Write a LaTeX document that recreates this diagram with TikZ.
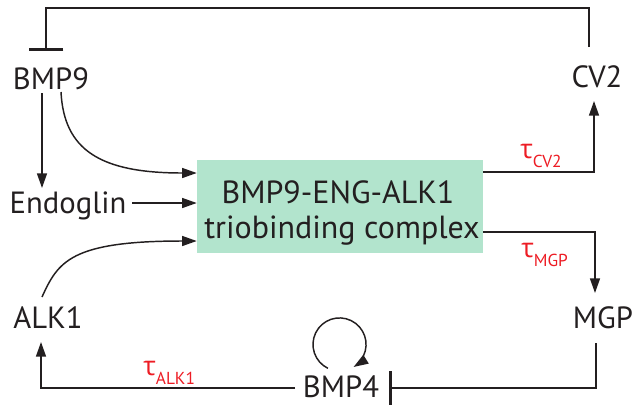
\documentclass[tikz,border=0pt]{standalone}
\usepackage{fontspec}
\setmainfont{PT Sans}
\newfontfamily\greekfont{Open Sans}
\usetikzlibrary{arrows.meta,calc}
\definecolor{boxfill}{RGB}{178,228,205}
\definecolor{taured}{RGB}{237,28,36}
\definecolor{ink}{RGB}{35,31,32}
\newcommand\taulab[1]{{\greekfont τ}\raisebox{-6.75pt}{\fontsize{13}{13}\selectfont #1}}
\begin{document}
\begin{tikzpicture}[x=0.75pt,y=-0.75pt,
  lbl/.style={font=\fontsize{23}{27}\selectfont, inner sep=0pt, text=ink, anchor=base},
  cbox/.style={fill=boxfill, draw=none, minimum width=214.5pt, minimum height=69.75pt, inner sep=0pt},
  btxt/.style={font=\fontsize{24}{28}\selectfont, inner sep=0pt, text=ink, anchor=base},
  conn/.style={line width=1.1pt, draw=ink, -{Triangle[length=11pt,width=7.5pt]}},
  inh/.style={line width=1.1pt, draw=ink, -{Bar[width=26pt,line width=2.4pt]}},
  tau/.style={text=taured, inner sep=0pt, anchor=base west, font=\fontsize{20}{24}\selectfont}]
\useasboundingbox (0,0) rectangle (640,412);

% nodes
\node[lbl] (bmp9) at (51,89) {BMP9};
\node[lbl] (cv2) at (597,87) {CV2};
\node[lbl] (endo) at (68,213) {Endoglin};
\node[lbl] (alk1) at (48,328) {ALK1};
\node[lbl] (mgp) at (603,328) {MGP};
\node[lbl] (bmp4) at (341,397) {BMP4};
\node[cbox] (cx) at (340,206.5) {};
\node[btxt] (cxa) at (338,203) {BMP9-ENG-ALK1};
\node[btxt] (cxb) at (342,238) {triobinding complex};

% tau labels
\node[tau] (tcv2) at (520,158) {\taulab{CV2}};
\node[tau] (tmgp) at (521,257) {\taulab{MGP}};
\node[tau] (talk1) at (143,375) {\taulab{ALK1}};

% helper coordinates
\coordinate (cvtop) at (589,47);
\coordinate (bmp9top) at (46,51);
\coordinate (cvbot) at (594,101);
\coordinate (mgptop) at (595,293);
\coordinate (mgpbot) at (596,343);
\coordinate (bmp4right) at (389,388);
\coordinate (bmp4left) at (295,388);
\coordinate (alk1bot) at (41,342);
\coordinate (loopstart) at (327.9,368.3);

% top inhibition CV2 -| BMP9
\draw[inh] (cvtop) |- (46,8) -- (bmp9top);

% BMP9 -> Endoglin
\draw[conn] (42,93) -- (42,188);
% BMP9 -> complex (curve)
\draw[conn] (61,92) .. controls (64,150) and (100,173) .. (cx.west |- 0,173);
% Endoglin -> complex
\draw[conn] (132,203) -- (cx.west |- 0,203);
% ALK1 -> complex (curve)
\draw[conn] (42,297) .. controls (58,262) and (70,241) .. (cx.west |- 0,241);

% complex -> CV2
\draw[conn] (cx.east |- 0,172) -| (cvbot);
% complex -> MGP
\draw[conn] (cx.east |- 0,232) -| (mgptop);

% MGP -| BMP4 inhibition
\draw[inh, -{Bar[width=25pt,line width=2.4pt]}] (mgpbot) |- (bmp4right);

% BMP4 -> ALK1
\draw[conn] (bmp4left) -| (alk1bot);

% BMP4 self loop
\draw[conn] (loopstart) arc[start angle=244, end angle=-58, radius=19.9pt];
\end{tikzpicture}
\end{document}
